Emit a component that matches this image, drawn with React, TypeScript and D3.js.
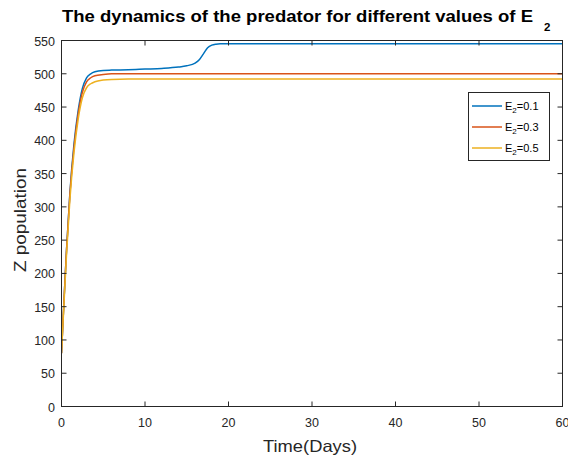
import React from "react";
import * as d3 from "d3";

const timePoints = [0, 0.3, 0.6, 1, 1.5, 2, 2.5, 3, 3.5, 4, 5, 6, 8, 10, 12, 14, 15, 16, 16.5, 17, 17.5, 18, 18.5, 19, 20, 30, 40, 50, 60];
const seriesE01 = [80, 160, 235, 320, 395, 445, 478, 494, 500, 503, 505, 505.5, 506, 507, 508, 510, 512, 516, 521, 530, 539, 543, 544.5, 545, 545, 545, 545, 545, 545];
const seriesE03 = [80, 160, 235, 318, 390, 440, 472, 488, 494, 497, 499, 500, 500, 500, 500, 500, 500, 500, 500, 500, 500, 500, 500, 500, 500, 500, 500, 500, 500];
const seriesE05 = [80, 155, 228, 310, 382, 432, 464, 479, 485, 488, 490.5, 491.5, 492, 492, 492, 492, 492, 492, 492, 492, 492, 492, 492, 492, 492, 492, 492, 492, 492];
const seriesLabels = ["0.1", "0.3", "0.5"];
const seriesColors = ["#0072BD", "#D95319", "#EDB120"];
const xTicks = [0, 10, 20, 30, 40, 50, 60];
const yTicks = [0, 50, 100, 150, 200, 250, 300, 350, 400, 450, 500, 550];

export default function App() {
  const W = 568, H = 457;
  const left = 61.5, right = 562.5, top = 40.5, bottom = 406.5;
  const x = d3.scaleLinear().domain([0, 60]).range([left, right]);
  const y = d3.scaleLinear().domain([0, 550]).range([bottom, top]);
  const all = [seriesE01, seriesE03, seriesE05];
  const line = d3.line<number>()
    .x((_, i) => x(timePoints[i]))
    .y((d) => y(d))
    .curve(d3.curveMonotoneX);
  const axisColor = "#262626";
  const font = "'Liberation Sans', Arial, Helvetica, sans-serif";
  const tl = 5;
  return (
    <div style={{ position: "absolute", left: 0, top: 0 }}>
      <svg width={W} height={H} style={{ display: "block", background: "#fff" }} fontFamily={font}>
        <rect x={0} y={0} width={W} height={H} fill="#fff" />
        <defs>
          <clipPath id="plotclip">
            <rect x={left} y={top} width={right - left} height={bottom - top} />
          </clipPath>
        </defs>
        <g clipPath="url(#plotclip)">
          {all.map((s, k) => (
            <path key={k} d={line(s) || ""} fill="none" stroke={seriesColors[k]} strokeWidth={1.5} />
          ))}
        </g>
        <rect x={left} y={top} width={right - left} height={bottom - top} fill="none" stroke={axisColor} strokeWidth={1} />
        {xTicks.map((t) => (
          <g key={"x" + t}>
            <line x1={x(t)} x2={x(t)} y1={bottom} y2={bottom - tl} stroke={axisColor} />
            <line x1={x(t)} x2={x(t)} y1={top} y2={top + tl} stroke={axisColor} />
            <text x={x(t)} y={bottom + 20} textAnchor="middle" fontSize={12.5} fill={axisColor}>{t}</text>
          </g>
        ))}
        {yTicks.map((t) => (
          <g key={"y" + t}>
            <line x1={left} x2={left + tl} y1={y(t)} y2={y(t)} stroke={axisColor} />
            <line x1={right} x2={right - tl} y1={y(t)} y2={y(t)} stroke={axisColor} />
            <text x={left - 6.5} y={y(t) + 5} textAnchor="end" fontSize={12.5} fill={axisColor}>{t}</text>
          </g>
        ))}
        <text x={62} y={22} fontSize={17} fontWeight="bold" fill="#000" textLength={471} lengthAdjust="spacingAndGlyphs">
          The dynamics of the predator for different values of E
        </text>
        <text x={544} y={30.7} fontSize={11.5} fontWeight="bold" fill="#000">2</text>
        <text x={310} y={452} textAnchor="middle" fontSize={16.5} fill={axisColor} textLength={94} lengthAdjust="spacingAndGlyphs">Time(Days)</text>
        <text transform={`translate(25.5,220) rotate(-90)`} textAnchor="middle" fontSize={16.5} fill={axisColor} textLength={104} lengthAdjust="spacingAndGlyphs">Z population</text>
        <rect x={468.5} y={92.5} width={81} height={68} fill="#fff" stroke={axisColor} strokeWidth={1} />
        {seriesLabels.map((lab, k) => {
          const ry = 106 + k * 21;
          return (
            <g key={lab}>
              <line x1={472} x2={502} y1={ry} y2={ry} stroke={seriesColors[k]} strokeWidth={1.5} />
              <text x={505} y={ry + 4} fontSize={11} fill="#000">
                E<tspan fontSize={8} dy={3}>2</tspan><tspan dy={-3}>={lab}</tspan>
              </text>
            </g>
          );
        })}
      </svg>
    </div>
  );
}
